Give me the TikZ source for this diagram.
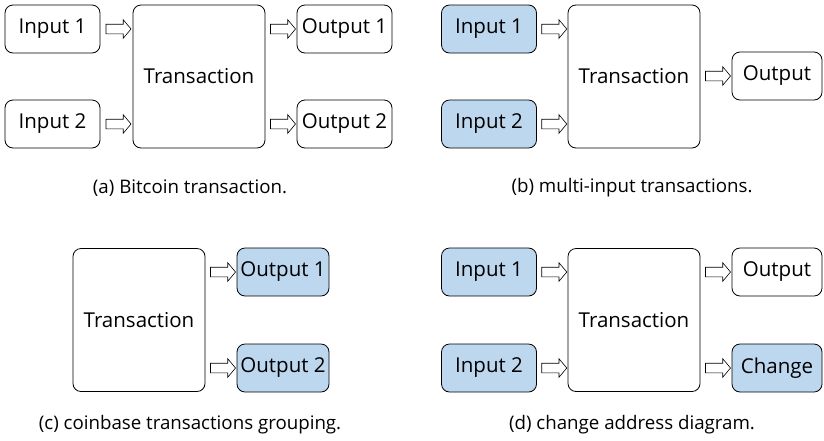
\documentclass[tikz,border=0pt]{standalone}
\usepackage{fontspec}
\setmainfont{Open Sans}
\usepackage{xcolor}
\usepackage{tikz}
\usetikzlibrary{positioning,arrows.meta,shapes.arrows,calc}

\definecolor{addrblue}{HTML}{BDD7EE}

\tikzset{
  box/.style={draw, rounded corners=8pt, line width=0.8pt, font=\fontsize{20.5}{24}\selectfont,
              minimum width=95pt, minimum height=48pt, inner sep=0pt},
  tx/.style={box, minimum width=132pt, minimum height=143pt},
  marked/.style={fill=addrblue},
  flow/.style={draw, single arrow, single arrow head extend=4.5pt, single arrow tip angle=100,
               inner xsep=0pt, inner ysep=4.5pt, minimum height=25pt, line width=0.6pt, fill=white},
  caption/.style={font=\fontsize{18.7}{22}\selectfont, inner sep=0pt}
}

\begin{document}
\begin{tikzpicture}[x=1pt,y=-1pt]
    \useasboundingbox (0,0) rectangle (824,440);

    % (a) plain transaction
    \node[box] (in1a) at (52.5,29) {Input 1};
    \node[box] (in2a) at (52.5,124) {Input 2};
    \node[tx] (txa) at (199,76.5) {Transaction};
    \node[box] (out1a) at (344.5,29) {Output 1};
    \node[box] (out2a) at (344.5,124) {Output 2};
    \path (in1a.east) -- (in1a.east -| txa.west) node[midway, flow] (f1a) {};
    \path (in2a.east) -- (in2a.east -| txa.west) node[midway, flow] (f2a) {};
    \path (out1a.west -| txa.east) -- (out1a.west) node[midway, flow] (f3a) {};
    \path (out2a.west -| txa.east) -- (out2a.west) node[midway, flow] (f4a) {};
    \node[caption] (capa) at (190,188) {(a) Bitcoin transaction.};

    % (b) inputs merged into one output
    \node[box, marked] (in1b) at (489,29) {Input 1};
    \node[box, marked] (in2b) at (489,124) {Input 2};
    \node[tx] (txb) at (634,76.5) {Transaction};
    \node[box, minimum width=90pt] (outb) at (777,76) {Output};
    \path (in1b.east) -- (in1b.east -| txb.west) node[midway, flow] (f1b) {};
    \path (in2b.east) -- (in2b.east -| txb.west) node[midway, flow] (f2b) {};
    \path (outb.west -| txb.east) -- (outb.west) node[midway, flow] (f3b) {};
    \node[caption] (capb) at (632,188) {(b) multi-input transactions.};

    % (c) coinbase outputs
    \node[tx] (txc) at (139,320) {Transaction};
    \node[box, marked, minimum width=92pt] (out1c) at (283,272) {Output 1};
    \node[box, marked, minimum width=92pt] (out2c) at (283,368) {Output 2};
    \path (out1c.west -| txc.east) -- (out1c.west) node[midway, flow] (f1c) {};
    \path (out2c.west -| txc.east) -- (out2c.west) node[midway, flow] (f2c) {};
    \node[caption] (capc) at (190,425) {(c) coinbase transactions grouping.};

    % (d) change address
    \node[box, marked] (in1d) at (489,272) {Input 1};
    \node[box, marked] (in2d) at (489,368) {Input 2};
    \node[tx] (txd) at (634,320) {Transaction};
    \node[box, minimum width=90pt] (outd) at (777,272) {Output};
    \node[box, marked, minimum width=90pt] (chgd) at (777,368) {Change};
    \path (in1d.east) -- (in1d.east -| txd.west) node[midway, flow] (f1d) {};
    \path (in2d.east) -- (in2d.east -| txd.west) node[midway, flow] (f2d) {};
    \path (outd.west -| txd.east) -- (outd.west) node[midway, flow] (f3d) {};
    \path (chgd.west -| txd.east) -- (chgd.west) node[midway, flow] (f4d) {};
    \node[caption] (capd) at (632,425) {(d) change address diagram.};
\end{tikzpicture}
\end{document}
